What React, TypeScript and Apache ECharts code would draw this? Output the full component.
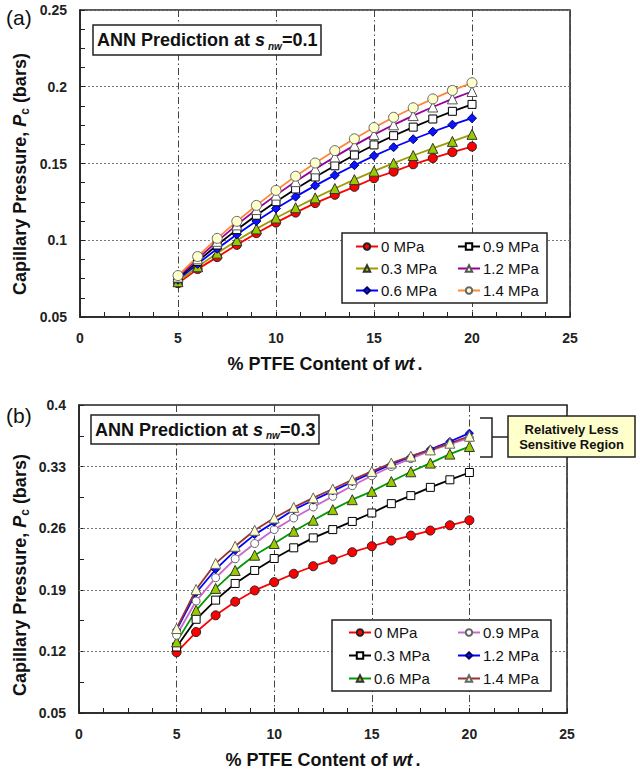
import React, { useEffect, useRef } from 'react';
import * as echarts from 'echarts';

const FF = '"Liberation Sans", Arial, Helvetica, sans-serif';

// % PTFE content (x values)
const PTFE = [5, 6, 7, 8, 9, 10, 11, 12, 13, 14, 15, 16, 17, 18, 19, 20];
const NAMES = ['0 MPa', '0.3 MPa', '0.6 MPa', '0.9 MPa', '1.2 MPa', '1.4 MPa'];

// (a) ANN prediction at s_nw = 0.1
const A_0 = [0.072, 0.0812, 0.089, 0.097, 0.1046, 0.1115, 0.118, 0.1242, 0.1296, 0.1348, 0.1404, 0.1447, 0.1495, 0.1535, 0.1574, 0.161];
const A_03 = [0.073, 0.0827, 0.0916, 0.0998, 0.1074, 0.1145, 0.1212, 0.1276, 0.1337, 0.1395, 0.145, 0.1502, 0.1552, 0.1599, 0.1644, 0.169];
const A_06 = [0.0742, 0.0846, 0.0945, 0.1038, 0.1125, 0.1207, 0.1284, 0.1356, 0.1424, 0.1489, 0.155, 0.1606, 0.1658, 0.1707, 0.1753, 0.1795];
const A_09 = [0.075, 0.0862, 0.0969, 0.1069, 0.1163, 0.1251, 0.1334, 0.1412, 0.1485, 0.1555, 0.1621, 0.1681, 0.1737, 0.179, 0.184, 0.1885];
const A_12 = [0.076, 0.0879, 0.0993, 0.11, 0.12, 0.1294, 0.1382, 0.1465, 0.1543, 0.1618, 0.1688, 0.1752, 0.1812, 0.1868, 0.1921, 0.1969];
const A_14 = [0.077, 0.0894, 0.1012, 0.1123, 0.1227, 0.1325, 0.1417, 0.1503, 0.1584, 0.1661, 0.1734, 0.1801, 0.1863, 0.1921, 0.1976, 0.2026];

// (b) ANN prediction at s_nw = 0.3
const B_0 = [0.119, 0.142, 0.161, 0.1765, 0.1893, 0.1987, 0.2082, 0.2168, 0.2244, 0.2327, 0.2395, 0.2459, 0.2516, 0.2573, 0.2633, 0.269];
const B_03 = [0.125, 0.1565, 0.1783, 0.1972, 0.212, 0.2256, 0.2377, 0.249, 0.2584, 0.2677, 0.2773, 0.2879, 0.297, 0.3064, 0.315, 0.3233];
const B_06 = [0.1308, 0.1667, 0.1916, 0.212, 0.2293, 0.2426, 0.2565, 0.269, 0.2811, 0.2924, 0.3018, 0.3131, 0.3241, 0.334, 0.3442, 0.3528];
const B_09 = [0.1384, 0.1772, 0.2037, 0.2252, 0.2426, 0.2584, 0.2716, 0.2841, 0.2962, 0.3083, 0.3196, 0.3301, 0.339, 0.348, 0.3555, 0.3625];
const B_12 = [0.1444, 0.1867, 0.2131, 0.2346, 0.2527, 0.2667, 0.281, 0.2918, 0.3022, 0.3128, 0.3228, 0.3325, 0.3412, 0.3497, 0.3585, 0.368];
const B_14 = [0.146, 0.1904, 0.22, 0.2395, 0.2576, 0.2716, 0.2837, 0.2945, 0.3045, 0.315, 0.3245, 0.334, 0.3418, 0.349, 0.3566, 0.3645];

// tick values
const B_Y_LABELS = [0.05, 0.12, 0.19, 0.26, 0.33, 0.4];
const B_Y_TICKS = [0.05, 0.085, 0.12, 0.155, 0.19, 0.225, 0.26, 0.295, 0.33, 0.365, 0.4];
const B_Y_GRID = [0.12, 0.19, 0.26, 0.33];

type Sty = { line: string; symbol: string; size: number; fill: string; border: string };

const STY_A: Sty[] = [
  { line: '#ff0000', symbol: 'circle', size: 9, fill: '#ff0000', border: '#222' },
  { line: '#9c9c00', symbol: 'triangle', size: 10, fill: '#99cc00', border: '#333' },
  { line: '#0000ff', symbol: 'diamond', size: 9, fill: '#0a14ff', border: '#000066' },
  { line: '#000000', symbol: 'rect', size: 8, fill: '#ffffff', border: '#000' },
  { line: '#990099', symbol: 'triangle', size: 10, fill: '#ffffff', border: '#555' },
  { line: '#ff8833', symbol: 'circle', size: 10, fill: '#ffffcc', border: '#666' },
];
const STY_B: Sty[] = [
  { line: '#ff0000', symbol: 'circle', size: 9, fill: '#ff0000', border: '#222' },
  { line: '#000000', symbol: 'rect', size: 8, fill: '#ffffff', border: '#000' },
  { line: '#009900', symbol: 'triangle', size: 10, fill: '#99cc00', border: '#333' },
  { line: '#cc66cc', symbol: 'circle', size: 8, fill: '#ffffff', border: '#666' },
  { line: '#0000ff', symbol: 'diamond', size: 8, fill: '#0a14ff', border: '#000066' },
  { line: '#993333', symbol: 'triangle', size: 10, fill: '#ffffcc', border: '#666' },
];

function mkSeries(vals: number[][], sty: Sty[], extra?: any) {
  return vals.map((v, k) => {
    const s: any = {
      type: 'line',
      name: NAMES[k],
      data: PTFE.map((x, i) => [x, v[i]]),
      symbol: sty[k].symbol,
      symbolSize: sty[k].size,
      showSymbol: true,
      silent: true,
      emphasis: { disabled: true },
      lineStyle: { color: sty[k].line, width: 1.8 },
      itemStyle: { color: sty[k].fill, borderColor: sty[k].border, borderWidth: 1 },
    };
    if (k === 0 && extra) Object.assign(s, extra);
    return s;
  });
}

const titleRich = {
  b: { fontSize: 18, fontWeight: 'bold', fontFamily: FF, fill: '#111', lineHeight: 22 },
  s: { fontSize: 18, fontWeight: 'bold', fontStyle: 'italic', fontFamily: FF, fill: '#111', lineHeight: 22 },
  sub: { fontSize: 10, fontWeight: 'bold', fontStyle: 'italic', fontFamily: FF, fill: '#111', lineHeight: 12, verticalAlign: 'bottom', padding: [0, 0, 0, 3] },
};
const yNameRich = {
  b: { fontSize: 18, fontWeight: 'bold', fontFamily: FF, fill: '#111', lineHeight: 22 },
  p: { fontSize: 18, fontWeight: 'bold', fontStyle: 'italic', fontFamily: FF, fill: '#111', lineHeight: 22 },
  c: { fontSize: 12, fontWeight: 'bold', fontFamily: FF, fill: '#111', lineHeight: 12, verticalAlign: 'bottom' },
};

function xAxis() {
  return {
    type: 'value',
    min: 0,
    max: 25,
    interval: 5,
    axisLine: { show: true, onZero: false, lineStyle: { color: '#222', width: 1.5 } },
    axisTick: { show: true, inside: true, length: 5, lineStyle: { color: '#222', width: 1 } },
    minorTick: { show: true, splitNumber: 4, length: 5, lineStyle: { color: '#222', width: 1 } },
    splitLine: { show: true, lineStyle: { color: '#444', width: 1, type: [7, 3, 1.5, 3] } },
    axisLabel: { fontFamily: FF, fontWeight: 'bold', fontSize: 14, color: '#222', margin: 14 },
    name: '{b|% PTFE Content of }{i|wt}{d|.}',
    nameLocation: 'middle',
    nameGap: 38,
    nameTextStyle: {
      rich: {
        b: { fontSize: 18, fontWeight: 'bold', fontFamily: FF, color: '#111' },
        i: { fontSize: 18, fontWeight: 'bold', fontStyle: 'italic', fontFamily: FF, color: '#111' },
        d: { fontSize: 18, fontWeight: 'bold', fontFamily: FF, color: '#111', padding: [0, 0, 0, 3] },
      },
    },
  };
}

function legends(top: number, leftA: number, leftB: number, gap: number) {
  const base = {
    orient: 'vertical',
    top,
    itemWidth: 22,
    itemHeight: 8,
    itemGap: gap,
    padding: 0,
    selectedMode: false,
    z: 6,
    textStyle: { fontFamily: FF, fontSize: 15, color: '#111', lineHeight: 15, padding: [0, 0, 0, -2] },
  };
  return [
    { ...base, left: leftA, data: NAMES.slice(0, 3) },
    { ...base, left: leftB, data: NAMES.slice(3) },
  ];
}

function txt(x: number, y: number, text: string, rich: any, extra?: any) {
  return {
    type: 'text',
    x,
    y,
    z: 7,
    silent: true,
    ...(extra || {}),
    style: { text, rich, align: 'left', verticalAlign: 'middle', textAlign: 'left', textVerticalAlign: 'middle' },
  };
}

function rect(x: number, y: number, w: number, h: number, fill: string) {
  return {
    type: 'rect',
    z: 5,
    silent: true,
    shape: { x, y, width: w, height: h },
    style: { fill, stroke: '#222', lineWidth: 1.5 },
  };
}

function panelLabel(x: number, y: number, t: string) {
  return {
    type: 'text',
    x,
    y,
    z: 7,
    silent: true,
    style: { text: t, font: `21px ${FF}`, fill: '#111', align: 'left', verticalAlign: 'middle', textAlign: 'left', textVerticalAlign: 'middle' },
  };
}

function yName(x: number, y: number) {
  return {
    type: 'text',
    x,
    y,
    z: 7,
    rotation: Math.PI / 2,
    silent: true,
    style: {
      text: '{b|Capillary Pressure, }{p|P}{c|c}{b| (bars)}',
      rich: yNameRich,
      align: 'center',
      verticalAlign: 'middle',
      textAlign: 'center',
      textVerticalAlign: 'middle',
    },
  };
}

function optionA() {
  return {
    animation: false,
    backgroundColor: '#fff',
    grid: { left: 80, right: 70, top: 10, bottom: 70, show: true, borderColor: '#222', borderWidth: 1.5, backgroundColor: '#fff' },
    xAxis: xAxis(),
    yAxis: {
      type: 'value',
      min: 0.05,
      max: 0.25,
      interval: 0.05,
      axisLine: { show: true, onZero: false, lineStyle: { color: '#222', width: 1.5 } },
      axisTick: { show: true, inside: true, length: 5, lineStyle: { color: '#222', width: 1 } },
      minorTick: { show: true, splitNumber: 4, length: 5, lineStyle: { color: '#222', width: 1 } },
      splitLine: { show: true, lineStyle: { color: '#777', width: 1, type: [2, 2] } },
      axisLabel: { fontFamily: FF, fontWeight: 'bold', fontSize: 14, color: '#222', margin: 13 },
    },
    legend: legends(239, 355, 457, 7),
    series: mkSeries([A_0, A_03, A_06, A_09, A_12, A_14], STY_A),
    graphic: [
      panelLabel(6, 17, '(a)'),
      rect(93, 25, 228, 30, '#fff'),
      txt(97, 40, '{b|ANN Prediction at }{s|s}{sub|nw}{b|=0.1}', titleRich),
      rect(342, 233, 205, 70, '#fff'),
      yName(20, 174),
    ],
  };
}

function optionB() {
  return {
    animation: false,
    backgroundColor: '#fff',
    grid: { left: 79, right: 73, top: 18, bottom: 60, show: true, borderColor: '#222', borderWidth: 1.5, backgroundColor: '#fff' },
    xAxis: xAxis(),
    yAxis: {
      type: 'value',
      min: 0.05,
      max: 0.4,
      axisLine: { show: true, onZero: false, lineStyle: { color: '#222', width: 1.5 } },
      axisTick: { show: true, inside: true, length: 5, customValues: B_Y_TICKS, lineStyle: { color: '#222', width: 1 } },
      splitLine: { show: false },
      axisLabel: { fontFamily: FF, fontWeight: 'bold', fontSize: 14, color: '#222', margin: 13, customValues: B_Y_LABELS },
    },
    legend: legends(238, 348, 457, 8),
    series: mkSeries([B_0, B_03, B_06, B_09, B_12, B_14], STY_B, {
      markLine: {
        silent: true,
        symbol: ['none', 'none'],
        label: { show: false },
        z: 1,
        lineStyle: { color: '#777', width: 1, type: [2, 2] },
        data: B_Y_GRID.map((v) => ({ yAxis: v })),
      },
    }),
    graphic: [
      panelLabel(6, 28, '(b)'),
      rect(91, 28, 228, 29, '#fff'),
      txt(95, 42.5, '{b|ANN Prediction at }{s|s}{sub|nw}{b|=0.3}', titleRich),
      rect(332, 233, 219, 71, '#fff'),
      yName(20, 188),
      {
        type: 'polyline',
        z: 7,
        silent: true,
        shape: { points: [[480, 31], [492, 31], [492, 70], [480, 70]] },
        style: { stroke: '#222', lineWidth: 1.5, fill: 'none' },
      },
      {
        type: 'line',
        z: 7,
        silent: true,
        shape: { x1: 492, y1: 50, x2: 508, y2: 50 },
        style: { stroke: '#222', lineWidth: 1.5 },
      },
      rect(508, 29, 127, 41, '#ffffcc'),
      {
        type: 'text',
        x: 571.5,
        y: 49.5,
        z: 8,
        silent: true,
        style: {
          text: 'Relatively Less\nSensitive Region',
          font: `bold 13px ${FF}`,
          fill: '#111',
          lineHeight: 15,
          align: 'center',
          verticalAlign: 'middle',
          textAlign: 'center',
          textVerticalAlign: 'middle',
        },
      },
    ],
  };
}

export default function App() {
  const refA = useRef<HTMLDivElement>(null);
  const refB = useRef<HTMLDivElement>(null);

  useEffect(() => {
    const ca = echarts.init(refA.current!, null, { renderer: 'svg' });
    const cb = echarts.init(refB.current!, null, { renderer: 'svg' });
    ca.setOption(optionA() as any);
    cb.setOption(optionB() as any);
    return () => {
      ca.dispose();
      cb.dispose();
    };
  }, []);

  return (
    <div style={{ position: 'absolute', left: 0, top: 0, width: 640, height: 774, background: '#fff' }}>
      <div ref={refA} style={{ width: 640, height: 387 }} />
      <div ref={refB} style={{ width: 640, height: 387 }} />
    </div>
  );
}
